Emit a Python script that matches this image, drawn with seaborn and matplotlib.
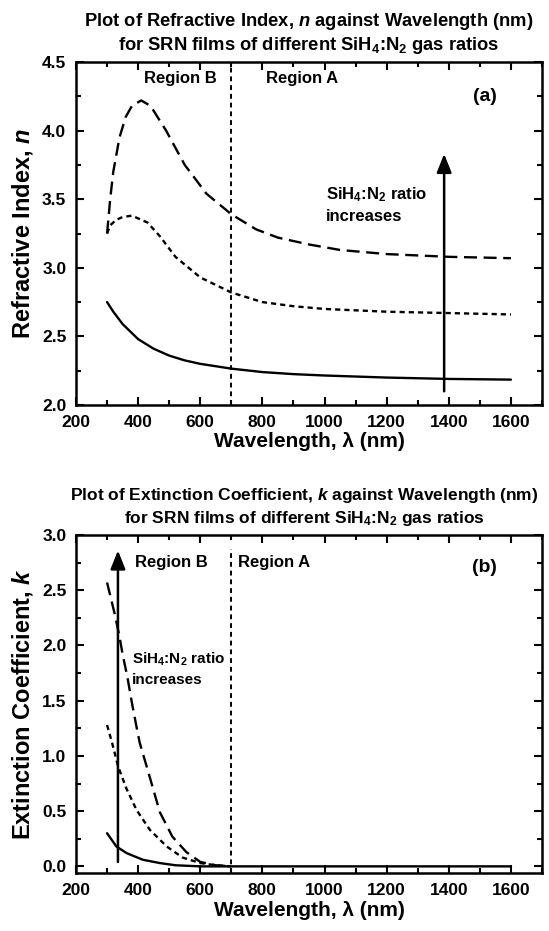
import numpy as np
import pandas as pd
import matplotlib
matplotlib.use("Agg")
import matplotlib.pyplot as plt
from matplotlib.ticker import AutoMinorLocator, FormatStrFormatter
import seaborn as sns

# ---------------- data ----------------
# Refractive index n
wl_n_low = [300, 320, 350, 400, 450, 500, 550, 600, 700, 800, 900, 1000, 1200, 1400, 1600]
n_low = [2.75, 2.68, 2.59, 2.48, 2.41, 2.36, 2.325, 2.30, 2.265, 2.24, 2.225, 2.215, 2.20, 2.19, 2.185]

wl_n_mid = [300, 310, 330, 350, 380, 430, 470, 520, 600, 700, 800, 900, 1000, 1200, 1400, 1600]
n_mid = [3.25, 3.31, 3.35, 3.37, 3.38, 3.33, 3.23, 3.08, 2.93, 2.82, 2.75, 2.72, 2.70, 2.68, 2.67, 2.66]

wl_n_high = [300, 310, 320, 340, 360, 380, 410, 440, 490, 550, 620, 700, 780, 850, 950, 1050, 1200, 1400, 1600]
n_high = [3.25, 3.50, 3.70, 3.95, 4.10, 4.18, 4.22, 4.18, 4.00, 3.75, 3.54, 3.39, 3.28, 3.22, 3.17, 3.13, 3.10, 3.08, 3.07]

# Extinction coefficient k
wl_k_low = [300, 330, 363, 415, 470, 520, 600, 700, 1600]
k_low = [0.30, 0.18, 0.12, 0.06, 0.03, 0.01, 0.0, 0.0, 0.0]

wl_k_mid = [300, 316, 336, 363, 395, 438, 492, 543, 600, 650, 700]
k_mid = [1.28, 1.12, 0.90, 0.70, 0.51, 0.33, 0.18, 0.08, 0.03, 0.01, 0.0]

wl_k_high = [300, 325, 340, 350, 365, 380, 395, 405, 430, 470, 510, 555, 600, 650, 700]
k_high = [2.57, 2.28, 2.08, 1.92, 1.72, 1.48, 1.26, 1.12, 0.88, 0.49, 0.27, 0.13, 0.04, 0.01, 0.0]

series_names = ["low", "mid", "high"]
region_boundary = 700

x_ticks = [200, 400, 600, 800, 1000, 1200, 1400, 1600]
n_ticks = [2.0, 2.5, 3.0, 3.5, 4.0, 4.5]
k_ticks = [0.0, 0.5, 1.0, 1.5, 2.0, 2.5, 3.0]

# ---------------- style ----------------
sns.set_theme(style="ticks")
plt.rcParams["font.family"] = ["Liberation Sans", "DejaVu Sans"]
plt.rcParams["font.weight"] = "bold"
plt.rcParams["text.color"] = "black"
plt.rcParams["axes.labelcolor"] = "black"
plt.rcParams["xtick.color"] = "black"
plt.rcParams["ytick.color"] = "black"
plt.rcParams["mathtext.fontset"] = "custom"
plt.rcParams["mathtext.rm"] = "Liberation Sans:bold"
plt.rcParams["mathtext.it"] = "Liberation Sans:italic:bold"
plt.rcParams["mathtext.bf"] = "Liberation Sans:bold"
plt.rcParams["mathtext.default"] = "rm"

dash_map = {"low": "", "mid": (2.2, 1.7), "high": (5.5, 2.8)}


def long_df(wls, vals):
    rows = []
    for name, w, v in zip(series_names, wls, vals):
        for xx, yy in zip(w, v):
            rows.append({"wl": xx, "val": yy, "ratio": name})
    return pd.DataFrame(rows)


df_n = long_df([wl_n_low, wl_n_mid, wl_n_high], [n_low, n_mid, n_high])
df_k = long_df([wl_k_low, wl_k_mid, wl_k_high], [k_low, k_mid, k_high])

W, H = 549, 931
fig = plt.figure(figsize=(W / 100, H / 100), dpi=100)
ax1 = fig.add_axes([76 / W, 1 - 405 / H, (542 - 76) / W, (405 - 62) / H])
ax2 = fig.add_axes([76 / W, 1 - 873 / H, (542 - 76) / W, (873 - 535) / H])

for ax, df in ((ax1, df_n), (ax2, df_k)):
    sns.lineplot(data=df, x="wl", y="val", style="ratio", dashes=dash_map,
                 color="black", linewidth=1.7, legend=False, ax=ax,
                 sort=False, estimator=None)


def style_axis(ax, yticks, ylim):
    ax.set_xlim(200, 1700)
    ax.set_ylim(*ylim)
    ax.set_xticks(x_ticks)
    ax.set_yticks(yticks)
    ax.xaxis.set_minor_locator(AutoMinorLocator(2))
    ax.yaxis.set_minor_locator(AutoMinorLocator(2))
    ax.yaxis.set_major_formatter(FormatStrFormatter("%.1f"))
    ax.tick_params(which="both", direction="in", top=True, right=True,
                   width=1.5, labelsize=12.5, color="black", labelcolor="black")
    ax.tick_params(axis="x", which="major", pad=7)
    ax.tick_params(axis="y", which="major", pad=7)
    ax.tick_params(which="major", length=6)
    ax.tick_params(which="minor", length=3.5)
    for lbl in ax.get_xticklabels() + ax.get_yticklabels():
        lbl.set_fontweight("bold")
    for s in ax.spines.values():
        s.set_linewidth(1.8)
        s.set_color("black")
    ax.set_xlabel("Wavelength, λ (nm)", fontsize=15, fontweight="bold", labelpad=2,
                  color="black")


style_axis(ax1, n_ticks, (2.0, 4.5))
style_axis(ax2, k_ticks, (-0.06, 3.0))

ax1.axvline(region_boundary, color="black", lw=1.4, dashes=(2.5, 2.0))
ax2.vlines(region_boundary, -0.06, 2.87, color="black", lw=1.4, linestyles=(0, (2.5, 2.0)))

ax1.set_ylabel(r"Refractive Index, $\mathit{n}$", fontsize=17, fontweight="bold",
               labelpad=5, color="black")
ax2.set_ylabel(r"Extinction Coefficient, $\mathit{k}$", fontsize=17, fontweight="bold",
               labelpad=5, color="black")

ax1.set_title("Plot of Refractive Index, $\\mathit{n}$ against Wavelength (nm)\n"
              "for SRN films of different SiH$_4$:N$_2$ gas ratios",
              fontsize=13.2, fontweight="bold", pad=9, linespacing=1.2, color="black")
ax2.set_title("Plot of Extinction Coefficient, $\\mathit{k}$ against Wavelength (nm)\n"
              "for SRN films of different SiH$_4$:N$_2$ gas ratios",
              fontsize=12.5, fontweight="bold", pad=9, linespacing=1.25, color="black",
              x=0.49)

# region labels
ax1.text(537, 4.38, "Region B", ha="center", va="center", fontsize=12, fontweight="bold")
ax1.text(929, 4.38, "Region A", ha="center", va="center", fontsize=12, fontweight="bold")
ax1.text(1515, 4.25, "(a)", ha="center", va="center", fontsize=14, fontweight="bold")

ax2.text(508, 2.75, "Region B", ha="center", va="center", fontsize=12, fontweight="bold")
ax2.text(723, 2.75, "Region A", ha="left", va="center", fontsize=12, fontweight="bold")
ax2.text(1515, 2.71, "(b)", ha="center", va="center", fontsize=14, fontweight="bold")

# arrows and annotations
arrow_kw = dict(arrowstyle="-|>,head_length=0.7,head_width=0.28", color="black",
                lw=1.8, mutation_scale=16, shrinkA=0, shrinkB=0)
ax1.annotate("", xy=(1385, 3.83), xytext=(1385, 2.10), arrowprops=arrow_kw)
ax1.text(1005, 3.46, "SiH$_4$:N$_2$ ratio\nincreases", ha="left", va="center",
         fontsize=12, fontweight="bold", linespacing=1.4)

ax2.annotate("", xy=(335, 2.86), xytext=(335, 0.04), arrowprops=arrow_kw)
ax2.text(380, 1.79, "SiH$_4$:N$_2$ ratio\nincreases", ha="left", va="center",
         fontsize=11, fontweight="bold", linespacing=1.4)

fig.savefig("out.png", dpi=100)
